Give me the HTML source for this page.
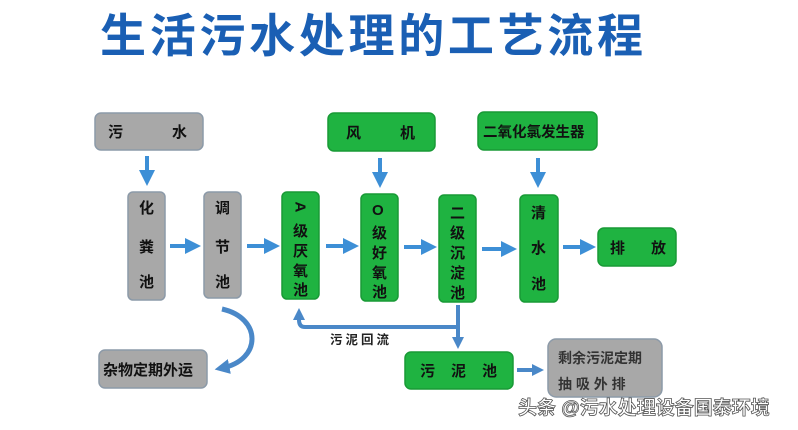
<!DOCTYPE html>
<html><head><meta charset="utf-8"><style>
html,body{margin:0;padding:0;background:#fff;}
svg{display:block;}
text{font-family:"Liberation Sans","Noto Sans CJK SC",sans-serif;font-weight:bold;}
</style></head><body>
<svg width="798" height="430" viewBox="0 0 798 430" xmlns="http://www.w3.org/2000/svg">
<defs>
<marker id="ah" markerWidth="4" markerHeight="4" refX="2" refY="2" orient="auto" markerUnits="strokeWidth"><path d="M0,0 L4,2 L0,4 z" fill="#3d8fd6"/></marker>
<marker id="ah2" markerWidth="3" markerHeight="3" refX="1.5" refY="1.5" orient="auto" markerUnits="strokeWidth"><path d="M0,0 L3,1.5 L0,3 z" fill="#4a88c8"/></marker>
</defs>
<rect width="798" height="430" fill="#fff"/>
<text x="100" y="52" font-size="46" letter-spacing="3.7" fill="#1a5fb4">生活污水处理的工艺流程</text>

<g stroke-width="1.5">
<rect x="95" y="113" width="108" height="37" rx="6" fill="#a8a8a8" stroke="#8c9aa8"/>
<rect x="328" y="113" width="107" height="38" rx="6" fill="#1fb341" stroke="#199a36"/>
<rect x="478" y="112" width="119" height="38" rx="6" fill="#1fb341" stroke="#199a36"/>
<rect x="128" y="192" width="37" height="108" rx="5" fill="#a8a8a8" stroke="#8c9aa8"/>
<rect x="204" y="192" width="37" height="106" rx="5" fill="#a8a8a8" stroke="#8c9aa8"/>
<rect x="282" y="192" width="37" height="107" rx="5" fill="#1fb341" stroke="#199a36"/>
<rect x="361" y="194" width="37" height="107" rx="5" fill="#1fb341" stroke="#199a36"/>
<rect x="439" y="195" width="37" height="107" rx="5" fill="#1fb341" stroke="#199a36"/>
<rect x="520" y="195" width="38" height="107" rx="5" fill="#1fb341" stroke="#199a36"/>
<rect x="598" y="228" width="78" height="38" rx="6" fill="#1fb341" stroke="#199a36"/>
<rect x="99" y="350" width="108" height="38" rx="6" fill="#a8a8a8" stroke="#8c9aa8"/>
<rect x="405" y="352" width="108" height="37" rx="6" fill="#1fb341" stroke="#199a36"/>
<rect x="548" y="339" width="114" height="58" rx="8" fill="#a8a8a8" stroke="#8c9aa8"/>
</g>

<g font-size="15" fill="#111">
<text x="108" y="137">污</text><text x="172" y="137">水</text>
<text x="346" y="138">风</text><text x="400" y="138">机</text>
<text x="483" y="137" font-size="14.5">二氧化氯发生器</text>
<text x="139" y="213">化</text><text x="139" y="252">粪</text><text x="139" y="287">池</text>
<text x="215" y="213">调</text><text x="215" y="252">节</text><text x="215" y="287">池</text>
<text x="293" y="214" transform="rotate(90 300.5 209)">A</text>
<text x="293" y="236">级</text><text x="293" y="256">厌</text><text x="293" y="276">氧</text><text x="293" y="295">池</text>
<text x="372" y="215">O</text>
<text x="372" y="238">级</text><text x="372" y="258">好</text><text x="372" y="278">氧</text><text x="372" y="297">池</text>
<text x="450" y="218">二</text><text x="450" y="238">级</text><text x="450" y="258">沉</text><text x="450" y="278">淀</text><text x="450" y="298">池</text>
<text x="531" y="218">清</text><text x="531" y="253">水</text><text x="531" y="289">池</text>
<text x="610" y="253">排</text><text x="651" y="253">放</text>
<text x="103" y="375">杂物定期外运</text>
<text x="420" y="376">污</text><text x="451" y="376">泥</text><text x="482" y="376">池</text>
<text x="558" y="363" font-weight="normal" fill="#333" font-size="14">剩余污泥定期</text>
<text x="558" y="389" font-weight="normal" fill="#333" font-size="14">抽 吸 外 排</text>
<text x="330" y="344" font-size="12.5" fill="#222" letter-spacing="3">污泥回流</text>
</g>

<g stroke="#3d8fd6" stroke-width="4" fill="none" marker-end="url(#ah)">
<line x1="147" y1="156" x2="147" y2="178"/>
<line x1="380" y1="158" x2="380" y2="180"/>
<line x1="538" y1="158" x2="538" y2="180"/>
<line x1="170" y1="246" x2="193" y2="246"/>
<line x1="247" y1="246" x2="272" y2="246"/>
<line x1="326" y1="246" x2="351" y2="246"/>
<line x1="404" y1="247" x2="429" y2="247"/>
<line x1="482" y1="249" x2="509" y2="249"/>
<line x1="563" y1="247" x2="588" y2="247"/>
</g>
<g stroke="#4a88c8" stroke-width="4" fill="none">
<path d="M458,305 L458,327 L305,327 Q299,327 299,320 L299,314" marker-end="url(#ah2)"/>
<line x1="458" y1="327" x2="458" y2="343" marker-end="url(#ah2)"/>
<line x1="517" y1="370" x2="538" y2="370" marker-end="url(#ah2)"/>
<path d="M222,309 C262,318 262,360 222,368" stroke-width="5" marker-end="url(#ah2)"/>
</g>

<text x="518" y="414" font-size="19" font-weight="normal" fill="#fff" stroke="#555" stroke-width="0.8">头条 @污水处理设备国泰环境</text>
</svg>
</body></html>
